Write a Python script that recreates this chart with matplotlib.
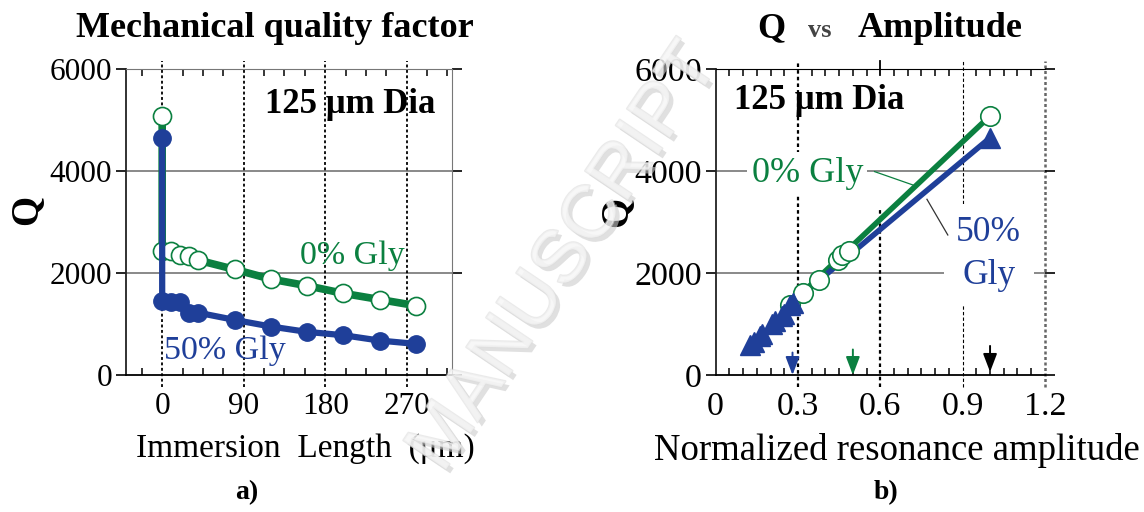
import numpy as np
import matplotlib
matplotlib.use("Agg")
import matplotlib.pyplot as plt
import matplotlib.patheffects as pe
from matplotlib.ticker import MultipleLocator

plt.rcParams['font.family'] = ['Liberation Serif', 'DejaVu Serif']

GREEN = '#0b8040'
BLUE = '#1f3f99'

# Q vs immersion length (125 um fibre)
length_um = [0, 0, 10, 20, 30, 40, 80, 120, 160, 200, 240, 280]
q_gly0 = [5080, 2440, 2440, 2350, 2330, 2250, 2070, 1880, 1750, 1600, 1480, 1360]
q_gly50 = [4650, 1450, 1440, 1440, 1220, 1220, 1080, 950, 845, 780, 675, 610]

# Q vs normalized resonance amplitude
amp_gly0 = [0.27, 0.32, 0.375, 0.445, 0.46, 0.485, 1.0]
qa_gly0 = [1380, 1600, 1870, 2250, 2350, 2440, 5080]
amp_gly50 = [0.125, 0.14, 0.16, 0.17, 0.205, 0.215, 0.24, 0.25, 0.27, 0.28, 1.0]
qa_gly50 = [590, 650, 760, 800, 1000, 1050, 1160, 1190, 1380, 1420, 4650]

# amplitude markers (arrows) on the x axis
arrow_amp = [0.28, 0.50, 1.0]
arrow_top = [440, 500, 570]
arrow_tip = [0, 0, 60]
arrow_col = [BLUE, GREEN, 'black']

q_ticks = [0, 2000, 4000, 6000]
len_ticks = [0, 90, 180, 270]
amp_ticks = [0, 0.3, 0.6, 0.9, 1.2]

fig = plt.figure(figsize=(11.44, 5.12), dpi=100)
ax1 = fig.add_axes([0.1101, 0.2676, 0.2850, 0.5977])
ax2 = fig.add_axes([0.6256, 0.2676, 0.2878, 0.5977])


def style_axes(ax, fs):
    ax.set_ylim(0, 6000)
    ax.set_yticks(q_ticks)
    ax.set_yticklabels([str(v) for v in q_ticks], fontsize=fs)
    ax.tick_params(axis='y', which='major', left=True, right=True,
                   direction='out', length=7, width=1.2, pad=3)
    ax.tick_params(axis='x', which='major', length=0, pad=12, labelsize=fs)
    ax.tick_params(axis='x', which='minor', bottom=True, top=True,
                   direction='in', length=5, width=1.1)
    for y in q_ticks[1:3]:
        ax.axhline(y, color='#6a6a6a', lw=1.1, zorder=1)
    ax.spines['left'].set_color('#222222')
    ax.spines['bottom'].set_color('black')
    ax.spines['bottom'].set_linewidth(1.3)
    ax.spines['left'].set_linewidth(1.3)


# ---- a) Q vs immersion length ----
style_axes(ax1, 22.5)
ax1.set_xlim(-40, 320)
ax1.set_xticks(len_ticks)
ax1.set_xticklabels([str(v) for v in len_ticks])
ax1.xaxis.set_minor_locator(MultipleLocator(22.5))
ax1.spines['top'].set_color('#777777')
ax1.spines['right'].set_color('#777777')
for x in len_ticks:
    ax1.plot([x, x], [-0.04, 1.025], transform=ax1.get_xaxis_transform(),
             color='black', lw=1.3, ls=(0, (1.6, 1.4)), clip_on=False, zorder=1)

ax1.plot(length_um, q_gly0, color=GREEN, lw=5.5, marker='o', ms=13,
         mfc='white', mec=GREEN, mew=1.2, zorder=3)
ax1.plot(length_um, q_gly50, color=BLUE, lw=4.5, marker='o', ms=12.5,
         mfc=BLUE, mec=BLUE, zorder=4)

ax1.text(208, 5300, '125 \u03bcm Dia', fontsize=25, fontweight='bold',
         ha='center', va='center')
ax1.text(210, 2330, '0% Gly', fontsize=24.5, color=GREEN, ha='center', va='center')
ax1.text(69, 470, '50% Gly', fontsize=24.5, color=BLUE, ha='center', va='center')
ax1.set_xlabel('Immersion  Length  (\u03bcm)', fontsize=24, labelpad=8)
ax1.xaxis.set_label_coords(0.549, -0.19)

# ---- b) Q vs normalized amplitude ----
style_axes(ax2, 24.5)
ax2.set_xlim(0, 1.2)
ax2.set_xticks(amp_ticks)
ax2.set_xticklabels(['0', '0.3', '0.6', '0.9', '1.2'])
ax2.xaxis.set_minor_locator(MultipleLocator(0.05))
ax2.spines['right'].set_visible(False)
xt = ax2.get_xaxis_transform()
ax2.plot([0.3, 0.3], [-0.04, 1.025], transform=xt, color='black', lw=1.6,
         ls=(0, (1.6, 1.4)), clip_on=False, zorder=1)
ax2.plot([0.6, 0.6], [-0.04, 0.545], transform=xt, color='black', lw=1.6,
         ls=(0, (1.6, 1.4)), clip_on=False, zorder=1)
ax2.plot([0.6, 0.6], [0.98, 1.025], transform=xt, color='black', lw=1.3,
         clip_on=False, zorder=1)
ax2.plot([0.9, 0.9], [-0.04, 1.025], transform=xt, color='black', lw=0.8,
         ls=(0, (3, 2)), clip_on=False, zorder=1)
ax2.plot([1.2, 1.2], [-0.04, 1.025], transform=xt, color='#666666', lw=1.8,
         ls=(0, (1.2, 1.0)), clip_on=False, zorder=1)

ax2.plot([amp_gly0[0], amp_gly0[-1]], [qa_gly0[0], qa_gly0[-1]],
         color=GREEN, lw=4, zorder=2, solid_capstyle='butt')
ax2.plot([amp_gly50[-2], amp_gly50[-1]], [qa_gly50[-2], qa_gly50[-1]],
         color=BLUE, lw=4, zorder=2, solid_capstyle='butt')
ax2.plot(amp_gly0, qa_gly0, ls='none', marker='o', ms=14, mfc='white',
         mec=GREEN, mew=1.2, zorder=3)
ax2.plot(amp_gly50, qa_gly50, ls='none', marker='^', ms=15, mfc=BLUE,
         mec=BLUE, zorder=4)

for xa, yt, yb, c in zip(arrow_amp, arrow_top, arrow_tip, arrow_col):
    ax2.annotate('', xy=(xa, yb), xytext=(xa, yt),
                 arrowprops=dict(arrowstyle='-|>,head_length=1.1,head_width=0.42',
                                 color=c, lw=1.4, shrinkA=0, shrinkB=0,
                                 mutation_scale=10), zorder=5)

ax2.text(0.376, 5390, '125 \u03bcm Dia', fontsize=25, fontweight='bold',
         ha='center', va='center', zorder=6)
ax2.text(0.334, 3960, '0% Gly', fontsize=26, color=GREEN, ha='center',
         va='center', zorder=6,
         bbox=dict(boxstyle='square,pad=0.12', fc='white', ec='none'))
ax2.text(0.995, 2370, '50%\nGly', fontsize=25.5, color=BLUE, ha='center',
         va='center', linespacing=1.4, zorder=6,
         bbox=dict(boxstyle='square,pad=0.35', fc='white', ec='none'))
ax2.plot([0.579, 0.719], [3988, 3725], color=GREEN, lw=0.9, zorder=6)
ax2.plot([0.770, 0.846], [3445, 2745], color='#333333', lw=0.9, zorder=7)
ax2.set_xlabel('Normalized resonance amplitude', fontsize=26.5, labelpad=6)
ax2.xaxis.set_label_coords(0.55, -0.19)

# ---- titles, axis names and panel tags ----
H = 512.0
W = 1144.0
fig.text(275 / W, 1 - 37 / H, 'Mechanical quality factor', fontsize=26,
         fontweight='bold', ha='center', va='baseline')
fig.text(771 / W, 1 - 37 / H, 'Q', fontsize=26, fontweight='bold',
         ha='center', va='baseline')
fig.text(820 / W, 1 - 37 / H, 'vs', fontsize=19, fontweight='bold',
         color='#444444', ha='center', va='baseline')
fig.text(940 / W, 1 - 37 / H, 'Amplitude', fontsize=26, fontweight='bold',
         ha='center', va='baseline')
fig.text(27 / W, 1 - 210 / H, 'Q', fontsize=28, fontweight='bold',
         rotation=90, ha='center', va='center')
fig.text(617 / W, 1 - 212 / H, 'Q', fontsize=28, fontweight='bold',
         rotation=90, ha='center', va='center')
fig.text(247 / W, 1 - 493 / H, 'a)', fontsize=20, fontweight='bold',
         ha='center', va='center')
fig.text(886 / W, 1 - 493 / H, 'b)', fontsize=20, fontweight='bold',
         ha='center', va='center')

# faint diagonal watermark across the middle
fig.text(565 / W, 1 - 258 / H, 'MANUSCRIPT', fontsize=54,
         family='Liberation Sans', color='#f6f6f6', alpha=0.6,
         rotation=56, rotation_mode='anchor', ha='center', va='center',
         zorder=20,
         path_effects=[pe.SimplePatchShadow(offset=(3, -3), shadow_rgbFace='#cccccc', alpha=0.6),
                       pe.withStroke(linewidth=1.5, foreground='#dddddd')])

fig.savefig('out.png', dpi=100, facecolor='white')
